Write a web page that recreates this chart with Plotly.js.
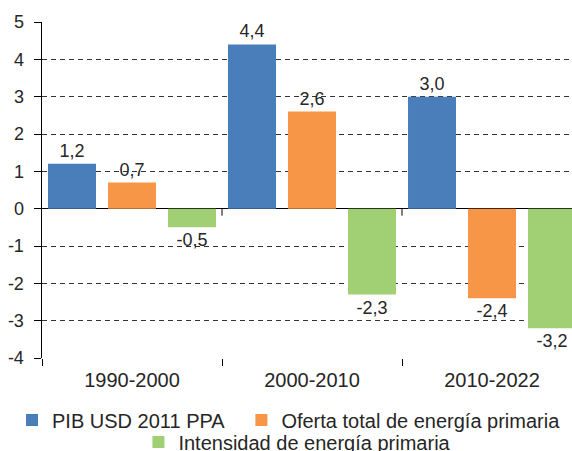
<!DOCTYPE html>
<html>
<head>
<meta charset="utf-8">
<script src="https://cdn.plot.ly/plotly-3.0.1.min.js"></script>
<style>
  html, body { margin: 0; padding: 0; background: #fff; }
  #chart { width: 572px; height: 451px; }
</style>
</head>
<body>
<div id="chart"></div>
<script>
const categories = ["1990-2000", "2000-2010", "2010-2022"];
const pib = [1.2, 4.4, 3.0];
const oferta = [0.7, 2.6, -2.4];
const intensidad = [-0.5, -2.3, -3.2];
const seriesNames = ["PIB USD 2011 PPA", "Oferta total de energía primaria", "Intensidad de energía primaria"];
const seriesColors = ["#4A7EBB", "#F79646", "#A1D074"];
const yTicks = [-4, -3, -2, -1, 0, 1, 2, 3, 4, 5];

const FONT = "Liberation Sans, Arial, sans-serif";
const TXT = "#262626";

function fmt(v) { return v.toFixed(1).replace(".", ","); }

const legendIds = ["legend", "legend2", "legend3"];
const seriesValues = [pib, oferta, intensidad];
const traces = seriesValues.map((vals, i) => ({
  type: "bar",
  name: seriesNames[i],
  x: categories,
  y: vals,
  text: vals.map(fmt),
  textposition: "outside",
  cliponaxis: false,
  textfont: { family: FONT, size: 18, color: TXT },
  marker: { color: seriesColors[i], line: { width: 0 } },
  legend: legendIds[i],
  hoverinfo: "skip"
}));

function legendAt(x, y) {
  return {
    orientation: "h",
    xref: "container", yref: "container",
    x: x, xanchor: "left",
    y: y, yanchor: "middle",
    font: { family: FONT, size: 20, color: TXT },
    bgcolor: "rgba(0,0,0,0)",
    borderwidth: 0,
    itemwidth: 30
  };
}

const layout = {
  width: 572,
  height: 451,
  margin: { l: 42, r: 0, t: 22, b: 93, pad: 0, autoexpand: false },
  paper_bgcolor: "#fff",
  plot_bgcolor: "#fff",
  font: { family: FONT, color: TXT },
  barmode: "group",
  bargap: 0,
  bargroupgap: 0.2,
  showlegend: true,
  xaxis: {
    type: "category",
    range: [-0.5, 2.4444],
    showgrid: false,
    zeroline: false,
    showline: false,
    ticks: "outside",
    tickson: "boundaries",
    ticklen: 7,
    tickwidth: 1,
    tickcolor: "#000",
    ticklabelstandoff: 8,
    tickfont: { family: FONT, size: 20, color: TXT },
    fixedrange: true
  },
  yaxis: {
    range: [-4, 5],
    tickvals: yTicks,
    ticktext: yTicks.map(String),
    showgrid: true,
    gridcolor: "#333",
    gridwidth: 1,
    griddash: "5px,4px",
    zeroline: true,
    zerolinecolor: "#000",
    zerolinewidth: 1.5,
    showline: true,
    linecolor: "#000",
    linewidth: 1.5,
    ticks: "outside",
    ticklen: 7,
    tickwidth: 1,
    tickcolor: "#000",
    ticklabelstandoff: 6,
    tickfont: { family: FONT, size: 18, color: TXT },
    fixedrange: true
  },
  legend: legendAt(0.021, 0.069),
  legend2: legendAt(0.422, 0.069),
  legend3: legendAt(0.242, 0.02),
  shapes: [0.5, 1.5].map(b => ({
    type: "line",
    xref: "x", yref: "y",
    ysizemode: "pixel",
    yanchor: 0,
    x0: b, x1: b,
    y0: 0, y1: -7,
    line: { color: "#000", width: 1 }
  }))
};

Plotly.newPlot("chart", traces, layout, { displayModeBar: false, staticPlot: true });
</script>
</body>
</html>
